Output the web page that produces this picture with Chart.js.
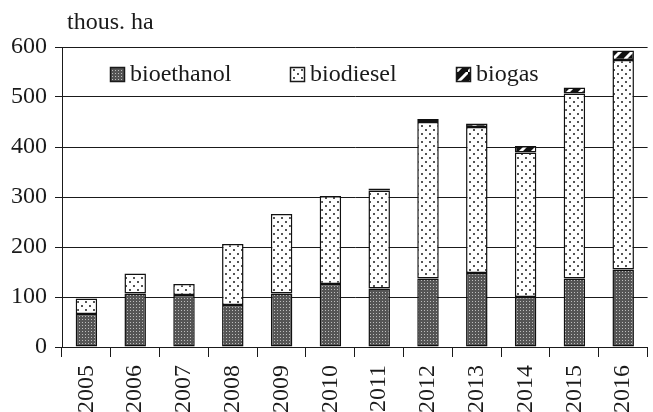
<!DOCTYPE html>
<html>
<head>
<meta charset="utf-8">
<script src="https://cdn.jsdelivr.net/npm/chart.js@4.4.1/dist/chart.umd.min.js"></script>
<style>
  html, body { margin: 0; padding: 0; background: #fff; overflow: hidden; }
  #wrap { width: 660px; height: 412px; position: relative; }
</style>
</head>
<body>
<div id="wrap"><canvas id="mainChart"></canvas></div>
<script>
// data (thous. ha)
const years = ['2005', '2006', '2007', '2008', '2009', '2010', '2011', '2012', '2013', '2014', '2015', '2016'];
const bioethanol = [66, 107, 104, 84, 107, 126, 117, 137, 148, 100, 137, 155];
const biodiesel = [31, 40, 22, 122, 159, 176, 196, 313, 292, 289, 370, 419];
const biogas = [0, 0, 0, 0, 0, 0, 4, 6, 7, 13, 12, 19];
const yTicks = [0, 100, 200, 300, 400, 500, 600];

const FONT = "'Liberation Serif', 'Times New Roman', serif";
const INK = '#1a1a1a';

// fill patterns like the print version
function makePattern(size, draw) {
    const c = document.createElement('canvas');
    c.width = size; c.height = size;
    const g = c.getContext('2d');
    draw(g, size);
    return g.createPattern(c, 'repeat');
}

const checkFill = makePattern(3, (g) => {
    g.fillStyle = '#555'; g.fillRect(0, 0, 3, 3);
    g.fillStyle = '#bdbdbd'; g.fillRect(1, 1, 1, 1);
});

const dotFill = makePattern(8, (g) => {
    g.fillStyle = '#fff'; g.fillRect(0, 0, 8, 8);
    g.fillStyle = '#555';
    g.fillRect(1, 1, 2, 2);
    g.fillRect(5, 5, 2, 2);
});

const stripeFill = makePattern(12, (g, s) => {
    g.fillStyle = '#111'; g.fillRect(0, 0, s, s);
    g.strokeStyle = '#fff'; g.lineWidth = 3;
    g.beginPath();
    g.moveTo(-2, s + 2); g.lineTo(s + 2, -2);
    g.stroke();
});

// legend + unit label drawn inside the chart like the original
const legendPos = [110, 290, 456];
const overlay = {
    id: 'overlay',
    afterDraw(chart) {
        const ctx = chart.ctx;
        ctx.save();
        ctx.font = '24px ' + FONT;
        ctx.fillStyle = INK;
        ctx.textBaseline = 'alphabetic';
        ctx.fillText('thous. ha', 67, 29);

        ctx.textBaseline = 'middle';
        chart.data.datasets.forEach((ds, i) => {
            const x = legendPos[i], y = 74;
            ctx.fillStyle = ds.backgroundColor;
            ctx.fillRect(x, y - 7, 15, 15);
            ctx.strokeStyle = INK; ctx.lineWidth = 1.5;
            ctx.strokeRect(x + 0.5, y - 6.5, 14, 14);
            ctx.fillStyle = INK;
            ctx.fillText(ds.label, x + 20, y + 1);
        });
        ctx.restore();
    }
};

new Chart(document.getElementById('mainChart'), {
    type: 'bar',
    data: {
        labels: years,
        datasets: [
            { label: 'bioethanol', data: bioethanol, backgroundColor: checkFill },
            { label: 'biodiesel', data: biodiesel, backgroundColor: dotFill },
            { label: 'biogas', data: biogas, backgroundColor: stripeFill }
        ].map(d => Object.assign(d, {
            borderColor: '#111', borderWidth: 1.5, borderSkipped: false,
            categoryPercentage: 1, barPercentage: 0.44
        }))
    },
    options: {
        responsive: true,
        maintainAspectRatio: false,
        animation: false,
        layout: { padding: { top: 47, right: 0, left: 0, bottom: 0 } },
        plugins: { legend: { display: false }, tooltip: { enabled: false }, title: { display: false } },
        scales: {
            x: {
                stacked: true,
                offset: true,
                grid: { offset: true, drawOnChartArea: false, drawTicks: true, tickLength: 10, color: INK, lineWidth: 1 },
                border: { display: true, color: INK, width: 1 },
                ticks: { color: INK, font: { family: FONT, size: 24 }, minRotation: 90, maxRotation: 90, padding: 8 },
                afterFit: (s) => { s.height = 65; }
            },
            y: {
                stacked: true,
                min: 0, max: 600,
                afterBuildTicks: (s) => { s.ticks = yTicks.map(v => ({ value: v })); },
                grid: { color: INK, lineWidth: 1, tickLength: 7, drawTicks: true },
                border: { display: true, color: INK, width: 1 },
                ticks: { color: INK, font: { family: FONT, size: 24 }, padding: 8 },
                afterFit: (s) => { s.width = 62; }
            }
        }
    },
    plugins: [overlay]
});
</script>
</body>
</html>
